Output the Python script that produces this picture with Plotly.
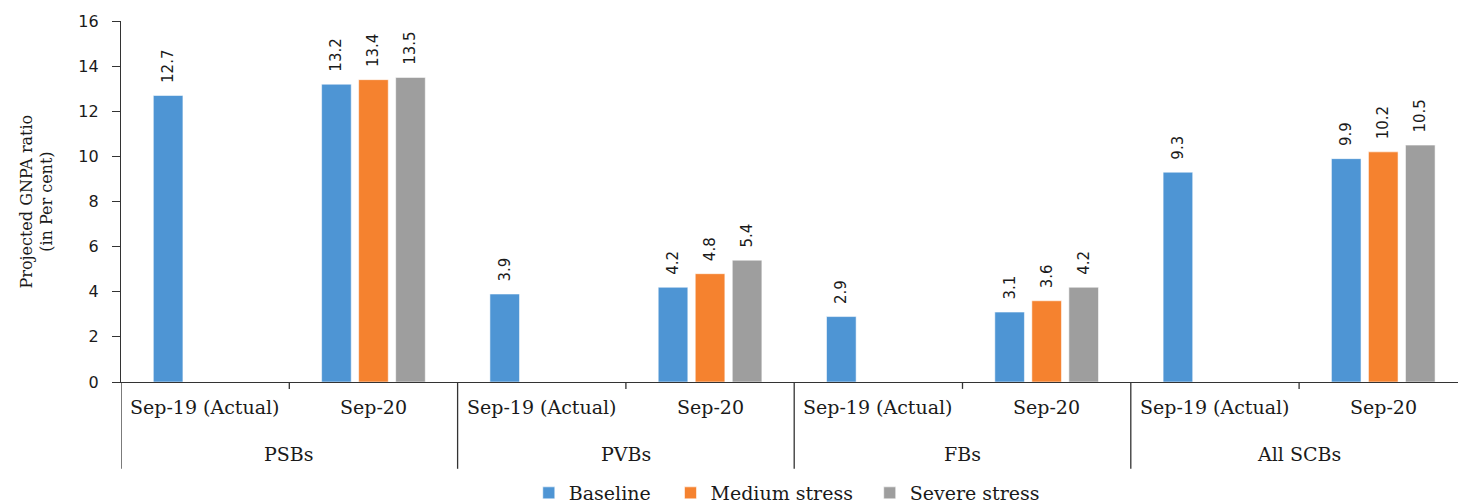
import plotly.graph_objects as go

groups = ["PSBs", "PSBs", "PVBs", "PVBs", "FBs", "FBs", "All SCBs", "All SCBs"]
periods = ["Sep-19 (Actual)", "Sep-20"] * 4
baseline = [12.7, 13.2, 3.9, 4.2, 2.9, 3.1, 9.3, 9.9]
medium = [None, 13.4, None, 4.8, None, 3.6, None, 10.2]
severe = [None, 13.5, None, 5.4, None, 4.2, None, 10.5]
y_ticks = [0, 2, 4, 6, 8, 10, 12, 14, 16]

serif = "DejaVu Serif"
sans = "DejaVu Sans"
ink = "#1a1a1a"
axis_col = "#333333"

W, H = 1458, 512
ML, MR, MT, MB = 121, 0, 21, 125
plot_w = W - ML - MR
plot_h = H - MT - MB

idx = list(range(len(periods)))

def labels(vals):
    # leading no-break spaces keep the rotated labels a little clear of the bar tops
    return [("" if v is None else "\u00a0\u00a0" + f"{v:.1f}") for v in vals]

series = [("Baseline", baseline, "#4E95D4", "legend", 0.305),
          ("Medium stress", medium, "#F5822F", "legend2", 0.411),
          ("Severe stress", severe, "#9E9E9E", "legend3", 0.560)]

fig = go.Figure()
for name, vals, col, leg, _ in series:
    fig.add_trace(go.Bar(
        x=idx, y=vals, name=name, legend=leg,
        marker=dict(color=col, line=dict(color="rgba(255,255,255,0.55)", width=1)),
        text=labels(vals), textposition="outside", textangle=-90,
        textfont=dict(family=sans, size=15, color=ink),
        constraintext="none",
        cliponaxis=False,
    ))

shapes = []
annotations = []
for i, p in enumerate(periods):
    annotations.append(dict(x=i, y=0, xref="x", yref="paper", text=p, showarrow=False,
                            yanchor="middle", yshift=-25,
                            font=dict(family=serif, size=19, color=ink)))
seen = []
for g in groups:
    if g not in seen:
        seen.append(g)
for g in seen:
    pos = [i for i, gg in enumerate(groups) if gg == g]
    annotations.append(dict(x=sum(pos) / len(pos), y=0, xref="x", yref="paper", text=g,
                            showarrow=False, yanchor="middle", yshift=-72,
                            font=dict(family=serif, size=19, color=ink)))
div_len = 88 / plot_h
tick_len = 7 / plot_h
for i in range(len(groups) + 1):
    b = i - 0.5
    is_div = i == 0 or i == len(groups) or groups[i] != groups[i - 1]
    shapes.append(dict(type="line", xref="x", yref="paper", x0=b, x1=b, y0=0,
                       y1=-(div_len if is_div else tick_len),
                       line=dict(color=axis_col, width=1.3)))

annotations.append(dict(x=0, y=0.5, xref="paper", yref="paper", xanchor="center", yanchor="middle",
                        xshift=-85, textangle=-90, showarrow=False,
                        text="Projected GNPA ratio<br>(in Per cent)",
                        font=dict(family=serif, size=16, color=ink)))

legend_common = dict(orientation="h", y=-0.309, yanchor="middle", xanchor="left",
                     font=dict(family=serif, size=19, color=ink), bgcolor="rgba(0,0,0,0)")
fig.update_layout(
    width=W, height=H,
    margin=dict(l=ML, r=MR, t=MT, b=MB),
    paper_bgcolor="white", plot_bgcolor="white",
    barmode="group", bargap=0.34, bargroupgap=0.2,
    showlegend=True,
    legend=dict(x=series[0][4], **legend_common),
    legend2=dict(x=series[1][4], **legend_common),
    legend3=dict(x=series[2][4], **legend_common),
    shapes=shapes, annotations=annotations,
)
fig.update_yaxes(
    range=[0, 16], tickvals=y_ticks, showgrid=False, zeroline=False,
    showline=True, linecolor=axis_col, linewidth=1.3,
    ticks="outside", ticklen=8, tickcolor=axis_col, tickwidth=1.3,
    tickfont=dict(family=sans, size=16, color=ink), ticklabelstandoff=10,
    automargin=False,
)
fig.update_xaxes(
    range=[-0.5, -0.5 + plot_w / 168.3],
    showline=True, linecolor=axis_col, linewidth=1.3,
    showticklabels=False, ticks="", showgrid=False, zeroline=False,
    automargin=False,
)

fig.write_html("out.html", config={"displayModeBar": False},
               post_script="document.body.style.margin='0';document.body.style.overflow='hidden';")
